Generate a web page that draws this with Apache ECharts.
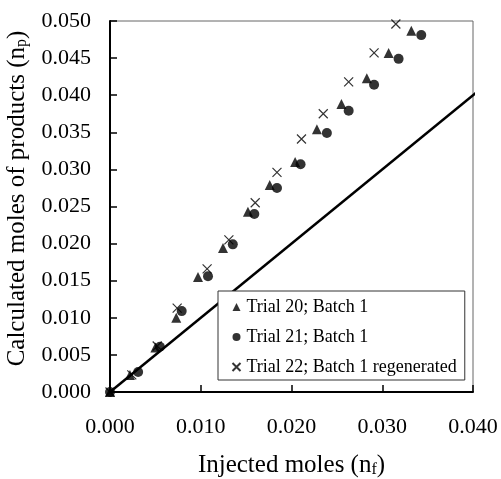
<!DOCTYPE html>
<html><head><meta charset="utf-8">
<script src="https://cdn.jsdelivr.net/npm/echarts@6/dist/echarts.min.js"></script>
<style>html,body{margin:0;padding:0;background:#fff}#c{width:501px;height:479px}</style>
</head><body><div id="c"></div>
<script>
var trial20 = [[0,0],[0.0022,0.0023],[0.0050,0.0060],[0.0073,0.0100],[0.0097,0.0155],[0.01245,0.0194],[0.0152,0.0243],[0.0176,0.0279],[0.0204,0.0310],[0.0228,0.0354],[0.0255,0.0388],[0.0283,0.0423],[0.0307,0.0457],[0.0332,0.0487]];
var trial21 = [[0,0],[0.0031,0.0027],[0.0055,0.0061],[0.0079,0.0109],[0.0108,0.0156],[0.01353,0.0199],[0.0159,0.0240],[0.0184,0.0275],[0.0210,0.0307],[0.0239,0.0349],[0.0263,0.0379],[0.0291,0.0414],[0.0318,0.0449],[0.0343,0.0481]];
var trial22 = [[0,0],[0.0024,0.0023],[0.0052,0.0062],[0.0074,0.0113],[0.0107,0.0166],[0.0131,0.0205],[0.0160,0.0255],[0.0184,0.0296],[0.0211,0.0341],[0.0235,0.0375],[0.0263,0.0418],[0.0291,0.0457],[0.0315,0.0496]];
var parityLine = [[0,0],[0.0404,0.0404]];
var seriesNames = ['Trial 20; Batch 1','Trial 21; Batch 1','Trial 22; Batch 1 regenerated'];
var xTicks = {min:0, max:0.04, interval:0.01};
var yTicks = {min:0, max:0.05, interval:0.005};

var font = 'Liberation Serif, Times New Roman, serif';
var chart = echarts.init(document.getElementById('c'));
chart.setOption({
  animation:false,
  backgroundColor:'#fff',
  grid:{left:110,right:28,top:21,bottom:87,outerBoundsMode:'none',containLabel:false,show:true,borderColor:'#666',borderWidth:1},
  xAxis:{type:'value',min:xTicks.min,max:xTicks.max,interval:xTicks.interval,
    name:'{m|Injected moles (n}{s|f}{m|)}',nameLocation:'middle',nameGap:60,
    nameTextStyle:{rich:{m:{fontFamily:font,fontSize:25,color:'#000'},s:{fontFamily:font,fontSize:16,color:'#000',padding:[10,0,0,0]}}},
    axisLine:{show:true,lineStyle:{color:'#000',width:2}},
    axisTick:{show:true,inside:true,length:7,lineStyle:{color:'#000',width:1.5}},
    axisLabel:{color:'#000',fontFamily:font,fontSize:22,margin:24,formatter:function(v){return v.toFixed(3);}},
    splitLine:{show:false}},
  yAxis:{type:'value',min:yTicks.min,max:yTicks.max,interval:yTicks.interval,
    name:'{m|Calculated moles of products (n}{s|p}{m|)}',nameLocation:'middle',nameGap:80,
    nameTextStyle:{padding:[0,0,0,16],rich:{m:{fontFamily:font,fontSize:25,color:'#000'},s:{fontFamily:font,fontSize:16,color:'#000',padding:[10,0,0,0]}}},
    axisLine:{show:true,lineStyle:{color:'#000',width:2}},
    axisTick:{show:true,inside:true,length:7,lineStyle:{color:'#000',width:1.5}},
    axisLabel:{color:'#000',fontFamily:font,fontSize:22,margin:19,formatter:function(v){return v.toFixed(3);}},
    splitLine:{show:false}},
  legend:{data:seriesNames,orient:'vertical',left:218,top:291,
    backgroundColor:'#fff',borderColor:'#333',borderWidth:1,borderRadius:0,
    padding:[7,8,4,12],itemGap:12,itemWidth:8,itemHeight:8,
    textStyle:{fontFamily:font,fontSize:18,color:'#000',lineHeight:18,padding:[0,0,0,1]}},
  series:[
    {type:'line',data:parityLine,showSymbol:false,symbol:'none',clip:false,lineStyle:{color:'#000',width:2.5},z:1,silent:true},
    {name:seriesNames[0],type:'scatter',data:trial20,symbol:'triangle',symbolSize:10,itemStyle:{color:'#000'},z:3},
    {name:seriesNames[1],type:'scatter',data:trial21,symbol:'circle',symbolSize:10,itemStyle:{color:'#000'},z:3},
    {name:seriesNames[2],type:'scatter',data:trial22,symbol:'path://M0,0L10,10M10,0L0,10',symbolSize:9,
      itemStyle:{color:'none',borderColor:'#000',borderWidth:1.2},z:3}
  ]
});
</script></body></html>
